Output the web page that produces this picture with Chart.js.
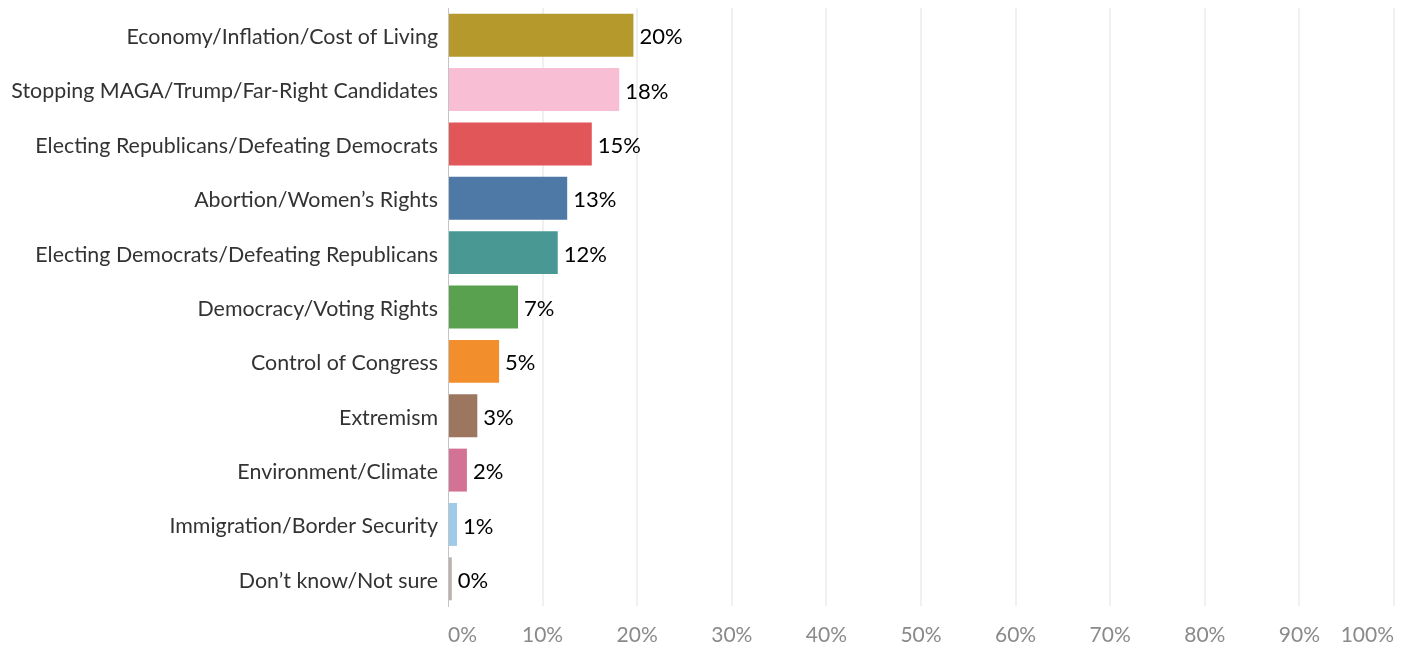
<!DOCTYPE html>
<html>
<head>
<meta charset="utf-8">
<script src="https://cdn.jsdelivr.net/npm/chart.js@4.4.1/dist/chart.umd.min.js"></script>
<style>
  html, body { margin: 0; padding: 0; background: #fff; overflow: hidden; }
  #wrap { width: 1405px; height: 646px; position: relative; }
</style>
</head>
<body>
<div id="wrap"><canvas id="myChart"></canvas></div>
<script>
// categories and values (percent)
var categories = [
    "Economy/Inflation/Cost of Living",
    "Stopping MAGA/Trump/Far-Right Candidates",
    "Electing Republicans/Defeating Democrats",
    "Abortion/Women\u2019s Rights",
    "Electing Democrats/Defeating Republicans",
    "Democracy/Voting Rights",
    "Control of Congress",
    "Extremism",
    "Environment/Climate",
    "Immigration/Border Security",
    "Don\u2019t know/Not sure"
];
var values = [19.6, 18.1, 15.2, 12.6, 11.6, 7.4, 5.4, 3.1, 2.0, 0.95, 0.4];
var barColors = [
    "#B6992D", "#F8BED3", "#E15759", "#4E79A7", "#499894", "#59A14F",
    "#F28E2B", "#9D7660", "#D37295", "#A0CBE8", "#BAB0AC"
];
var tickValues = [0, 10, 20, 30, 40, 50, 60, 70, 80, 90, 100];

// draw the % label at the end of each bar
var valueLabels = {
    id: 'valueLabels',
    afterDatasetsDraw: function(chart){
        var ctx = chart.ctx;
        var meta = chart.getDatasetMeta(0);
        ctx.save();
        ctx.font = '22px Lato';
        ctx.fillStyle = '#000';
        ctx.textAlign = 'left';
        ctx.textBaseline = 'middle';
        meta.data.forEach(function(bar, i){
            ctx.fillText(Math.round(values[i]) + '%', bar.x + 6, bar.y + 2);
        });
        ctx.restore();
    }
};

var ctx = document.getElementById("myChart");

var data = {
    labels: categories,
    datasets: [{
        data: values,
        backgroundColor: barColors,
        categoryPercentage: 1,
        barPercentage: 0.79
    }]
};

var options = {
    indexAxis: 'y',
    responsive: true,
    maintainAspectRatio: false,
    animation: false,
    layout: { padding: 0 },
    plugins: {
        legend: { display: false },
        tooltip: { enabled: false }
    },
    scales: {
        x: {
            min: 0,
            max: 100,
            afterBuildTicks: function(axis){
                axis.ticks = tickValues.map(function(v){ return { value: v }; });
            },
            afterFit: function(axis){
                axis.height = 40;
                axis.paddingLeft = 0;
                axis.paddingRight = 11;
            },
            border: { display: false },
            grid: {
                drawTicks: false,
                lineWidth: 2,
                color: function(c){ return c.tick && c.tick.value === 0 ? 'rgba(0,0,0,0)' : '#f0f0f0'; }
            },
            ticks: {
                align: 'inner',
                padding: 17,
                color: '#8a8a8a',
                font: { family: 'Lato', size: 21 },
                callback: function(v){ return v + '%'; }
            }
        },
        y: {
            afterFit: function(axis){
                axis.width = 448;
                axis.paddingTop = 8;
                axis.paddingBottom = 0;
            },
            border: { display: true, color: '#c4c4c4', width: 1, dash: [3, 2] },
            grid: { display: false, drawTicks: false },
            ticks: {
                padding: 10,
                labelOffset: 2,
                color: '#333',
                font: { family: 'Lato', size: 21.4 }
            }
        }
    }
};

var myChart = new Chart(ctx, {
    type: 'bar',
    data: data,
    options: options,
    plugins: [valueLabels]
});
</script>
</body>
</html>
